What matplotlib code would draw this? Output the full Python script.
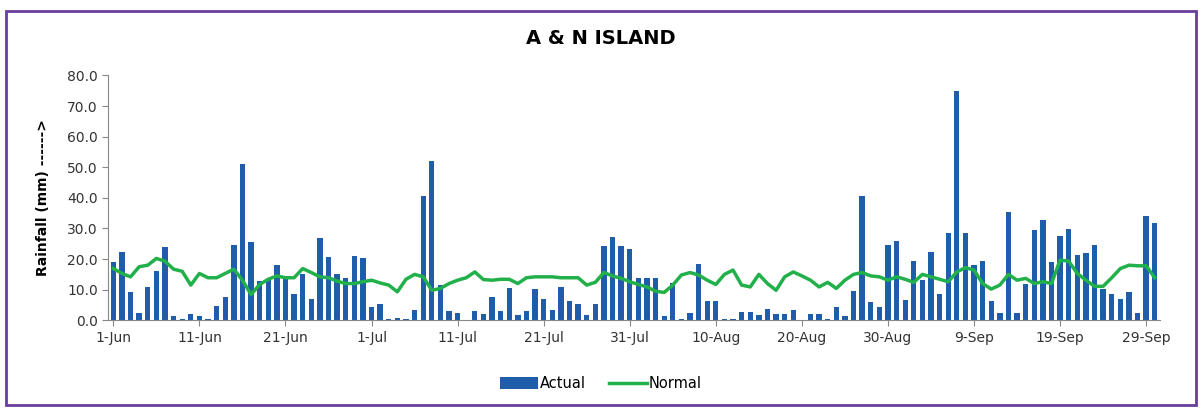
import numpy as np
import matplotlib.pyplot as plt
from matplotlib.patches import Rectangle

# daily rainfall, 1 Jun - 30 Sep (122 days)
actual = [
    18.9, 22.4, 9.1, 2.4, 10.9, 16.2, 24.0, 1.5, 0.5, 1.9,
    1.5, 0.5, 4.8, 7.5, 24.6, 51.0, 25.6, 12.9, 13.3, 18.0,
    13.7, 8.5, 15.1, 7.1, 27.0, 20.8, 15.1, 13.7, 21.1, 20.2,
    4.3, 5.2, 0.5, 0.9, 0.5, 3.3, 40.7, 51.9, 11.5, 3.0,
    2.5, 0.0, 3.0, 2.1, 7.7, 3.0, 10.6, 1.6, 3.0, 10.2,
    7.1, 3.5, 10.9, 6.2, 5.2, 1.6, 5.2, 24.2, 27.3, 24.2,
    23.2, 13.7, 13.7, 13.7, 1.4, 12.2, 0.5, 2.4, 18.5, 6.2,
    6.2, 0.5, 0.5, 2.7, 2.7, 1.6, 3.8, 1.9, 1.9, 3.3,
    0.0, 1.9, 1.9, 0.5, 4.3, 1.4, 9.5, 40.7, 6.0, 4.3,
    24.6, 26.0, 6.7, 19.5, 13.3, 22.4, 8.5, 28.4, 75.0, 28.4,
    18.0, 19.5, 6.2, 2.5, 35.5, 2.5, 11.9, 29.4, 32.7, 18.9,
    27.5, 29.8, 21.3, 21.9, 24.6, 10.1, 8.5, 6.8, 9.1, 2.5,
    34.1, 31.9,
]
normal = [
    16.9, 15.3, 14.2, 17.5, 18.0, 20.2, 19.3, 16.7, 16.0, 11.5,
    15.3, 13.9, 13.9, 15.3, 16.7, 13.1, 8.4, 11.7, 13.4, 14.5,
    13.9, 13.9, 16.9, 15.6, 14.2, 13.9, 12.8, 12.0, 12.0, 12.6,
    13.1, 12.2, 11.5, 9.3, 13.4, 15.0, 14.2, 9.8, 10.4, 12.0,
    13.1, 13.9, 15.8, 13.3, 13.1, 13.4, 13.4, 12.0, 13.9, 14.2,
    14.2, 14.2, 13.9, 13.9, 13.9, 11.5, 12.4, 15.6, 14.5, 13.7,
    12.6, 11.7, 10.9, 9.5, 9.1, 11.5, 14.8, 15.6, 14.8, 13.1,
    11.7, 15.0, 16.4, 11.5, 10.9, 15.0, 12.0, 9.8, 14.2, 15.8,
    14.5, 13.1, 10.9, 12.4, 10.4, 13.1, 15.0, 15.6, 14.5, 14.2,
    13.1, 14.2, 13.4, 12.4, 15.0, 14.2, 13.4, 12.6, 15.8, 17.2,
    16.4, 12.0, 10.2, 11.5, 15.0, 13.1, 13.7, 12.0, 12.6, 12.0,
    19.7, 19.3, 15.3, 13.1, 11.1, 11.1, 13.9, 16.9, 18.0, 17.8,
    17.8, 13.9,
]
tick_labels = ['1-Jun', '11-Jun', '21-Jun', '1-Jul', '11-Jul', '21-Jul', '31-Jul',
               '10-Aug', '20-Aug', '30-Aug', '9-Sep', '19-Sep', '29-Sep']

x = np.arange(len(actual))

fig = plt.figure(figsize=(12.02, 4.08), dpi=100)
ax = fig.add_axes([0.09, 0.215, 0.875, 0.6])

bars = ax.bar(x, actual, width=0.62, color='#1F5DAA', label='Actual', zorder=2)
line, = ax.plot(x, normal, color='#22B04B', linewidth=2.5, label='Normal', zorder=3)

ax.set_xlim(-0.6, len(actual) - 0.4)
ax.set_ylim(0, 80)
ax.set_yticks(np.arange(0, 81, 10))
ax.set_yticklabels([f'{v:.1f}' for v in range(0, 81, 10)], fontsize=10)
ax.set_xticks(x[::10])
ax.set_xticklabels(tick_labels, fontsize=10)
ax.tick_params(axis='both', colors='#333333', length=4, color='#888888')

for s in ['top', 'right']:
    ax.spines[s].set_visible(False)
for s in ['left', 'bottom']:
    ax.spines[s].set_color('#888888')

ax.set_ylabel('Rainfall (mm) ------>', fontsize=10, fontweight='bold')
ax.yaxis.set_label_coords(-0.055, 0.5)
fig.text(0.5, 0.905, 'A & N ISLAND', ha='center', va='center',
         fontsize=14, fontweight='bold')

fig.legend([bars, line], ['Actual', 'Normal'], loc='center',
           bbox_to_anchor=(0.5, 0.06), ncol=2, frameon=False,
           fontsize=10.5, handlelength=2.6, handleheight=0.8,
           columnspacing=1.6, handletextpad=0.1)

fig.patches.append(Rectangle((0.005, 0.008), 0.99, 0.965, transform=fig.transFigure,
                             fill=False, edgecolor='#6A3D9A', linewidth=2))

fig.savefig('out.png', dpi=100)
